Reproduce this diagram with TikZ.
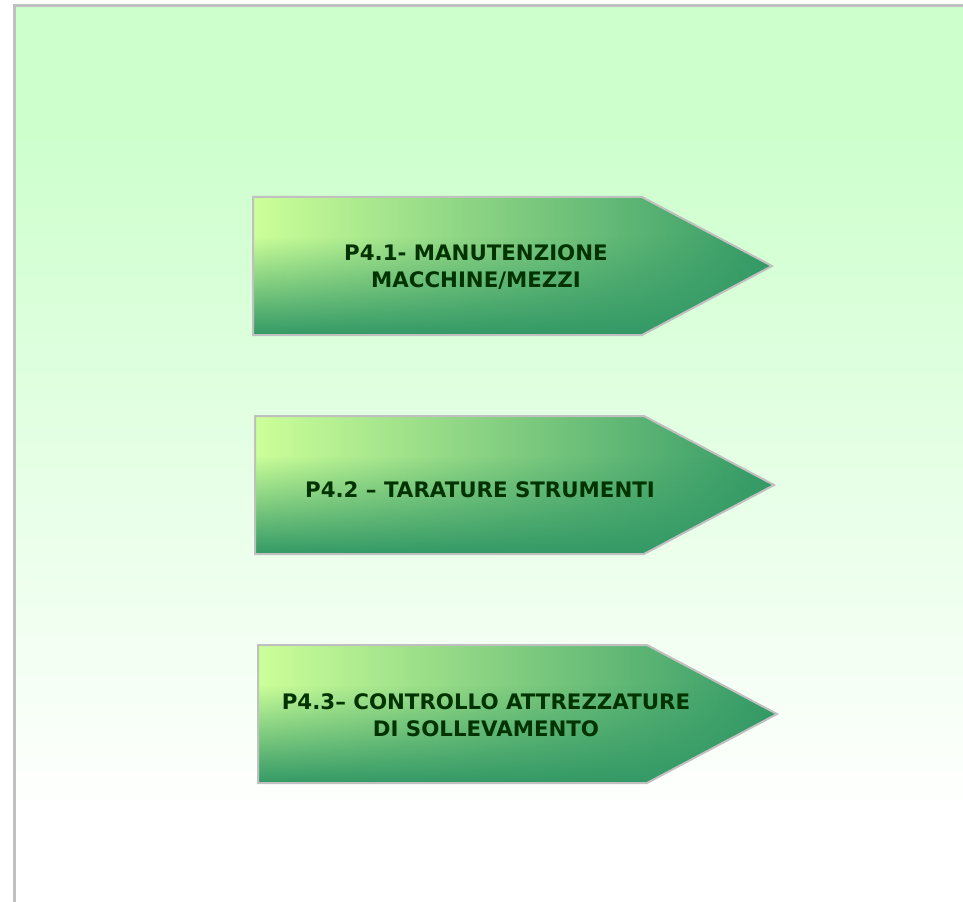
\documentclass[tikz,border=0pt]{standalone}
\usepackage{fontspec}
\setmainfont{DejaVu Sans}
\usetikzlibrary{fadings}
\definecolor{bgtop}{HTML}{CCFFCC}
\definecolor{lightg}{HTML}{CCFF99}
\definecolor{darkg}{HTML}{339966}
\definecolor{txtg}{HTML}{003300}
\definecolor{edgeg}{HTML}{C0C0C0}
\tikzfading[name=vfade, top color=transparent!100, bottom color=transparent!0]
\tikzset{
  lbl/.style={align=center, text=txtg, font=\bfseries\fontsize{16}{20}\selectfont, inner sep=0pt},
  arrowfill/.style={left color=lightg, right color=darkg},
  arrowdark/.style={fill=darkg, path fading=vfade},
  arrowedge/.style={draw=edgeg, line width=1.5pt, line join=miter},
}
\newcommand{\procarrow}[2]{%
  \shade[arrowfill] (#1,#2) -- ++(389,0) -- ++(130,69) -- ++(-130,69) -- ++(-389,0) -- cycle;
  \begin{scope}
    \clip (#1,#2) -- ++(389,0) -- ++(130,69) -- ++(-130,69) -- ++(-389,0) -- cycle;
    \fill[arrowdark] ($(#1,#2)+(0,40)$) rectangle ($(#1,#2)+(519,138)$);
  \end{scope}
  \draw[arrowedge] (#1,#2) -- ++(389,0) -- ++(130,69) -- ++(-130,69) -- ++(-389,0) -- cycle;
}
\usetikzlibrary{calc}
\begin{document}
\begin{tikzpicture}[x=0.75pt,y=-0.75pt]
\useasboundingbox (0,0) rectangle (963,902);
\fill[white] (0,0) rectangle (963,902);
\fill[bgtop] (15,5) rectangle (963,120);
\shade[top color=bgtop, bottom color=white] (15,119.5) rectangle (963,818);
\draw[edgeg, line width=2.25pt] (14.5,902) -- (14.5,5.5) -- (963,5.5);

\procarrow{253}{197}
\procarrow{255}{416}
\procarrow{258}{645}

\node[lbl] (t1) at (476,267) {P4.1- MANUTENZIONE\\MACCHINE/MEZZI};
\node[lbl] (t2) at (480,490) {P4.2 – TARATURE STRUMENTI};
\node[lbl] (t3) at (486,715) {P4.3– CONTROLLO ATTREZZATURE\\DI SOLLEVAMENTO};
\end{tikzpicture}
\end{document}
